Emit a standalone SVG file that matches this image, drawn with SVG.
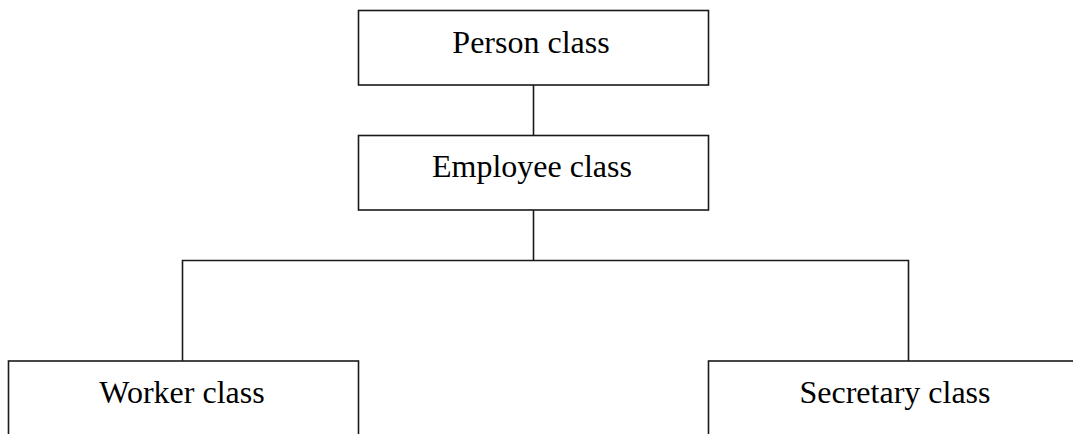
<svg xmlns="http://www.w3.org/2000/svg" width="1073" height="434" viewBox="0 0 1073 434">
<style>
.box{fill:#fff;stroke:#1a1a1a;stroke-width:1.6}
.lbl{font-family:"Liberation Serif","Times New Roman",serif;font-size:32px;fill:#000;text-anchor:middle}
.conn{fill:none;stroke:#1a1a1a;stroke-width:1.6}
</style>
<rect width="1073" height="434" fill="#fff"/>
<g id="connectors">
<line class="conn" x1="533.5" y1="85" x2="533.5" y2="135"/>
<line class="conn" x1="533.5" y1="210" x2="533.5" y2="260.5"/>
<polyline class="conn" points="182.5,361 182.5,260.5 908.5,260.5 908.5,361"/>
</g>
<g id="person">
<rect class="box" x="358.5" y="10.5" width="350" height="74.5"/>
<text class="lbl" x="531" y="53">Person class</text>
</g>
<g id="employee">
<rect class="box" x="358.5" y="135.5" width="350" height="74.5"/>
<text class="lbl" x="532" y="177">Employee class</text>
</g>
<g id="worker">
<rect class="box" x="8.5" y="361" width="350" height="90"/>
<text class="lbl" x="182" y="403">Worker class</text>
</g>
<g id="secretary">
<rect class="box" x="708.5" y="361" width="380" height="90"/>
<text class="lbl" x="895" y="403">Secretary class</text>
</g>
</svg>
